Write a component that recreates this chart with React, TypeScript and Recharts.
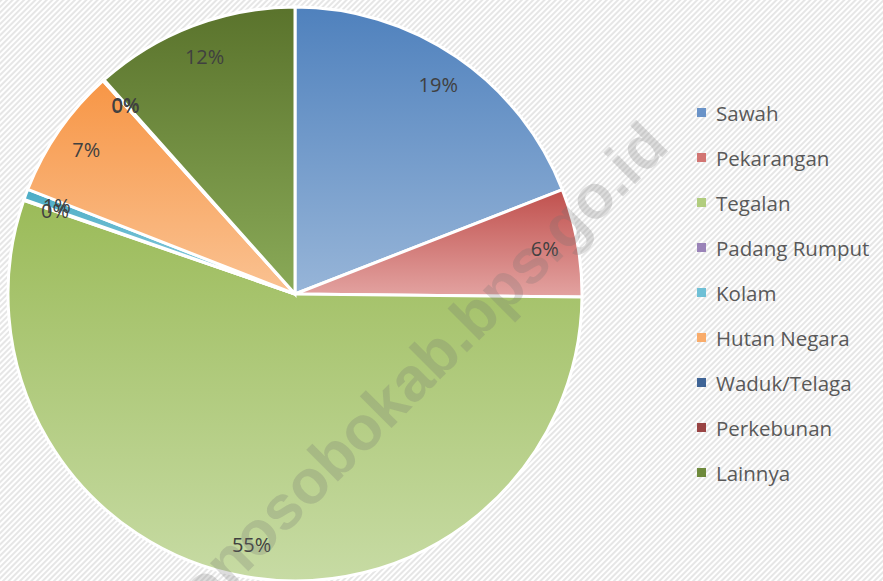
import React from 'react';
import { PieChart, Pie, Cell } from 'recharts';

const categories = ['Sawah', 'Pekarangan', 'Tegalan', 'Padang Rumput', 'Kolam', 'Hutan Negara', 'Waduk/Telaga', 'Perkebunan', 'Lainnya'];
const values = [19.1, 6.1, 55.2, 0.05, 0.6, 7.4, 0.03, 0.05, 11.6];
const topColors = ['#4F81BD', '#C0504D', '#9BBB59', '#8064A2', '#4BACC6', '#F79646', '#2C4D75', '#772C2A', '#5A732C'];
const bottomColors = ['#97B5D8', '#E3A3A1', '#C7DBA4', '#B5A5CC', '#93D0E0', '#FAC292', '#6F8DB5', '#B56A68', '#8AAA58'];
const legendColors = ['#6A93C8', '#D27573', '#B1CD7E', '#9A83B8', '#6FC0D6', '#F9AC6B', '#3F6496', '#994444', '#6E8A3C'];
const watermark = 'wonosobokab.bps.go.id';

const data = categories.map((name, i) => ({ name, value: values[i] }));

const RAD = Math.PI / 180;

const renderLabel = (props: any) => {
  const { cx, cy, midAngle, outerRadius, percent } = props;
  const r = outerRadius * 0.885;
  const x = cx + r * Math.cos(-midAngle * RAD);
  const y = cy + r * Math.sin(-midAngle * RAD);
  return (
    <text x={x} y={y} fill="#404040" fontSize={20} fontFamily="'Open Sans', 'DejaVu Sans', sans-serif" textAnchor="middle" dominantBaseline="central">
      {`${Math.round(percent * 100)}%`}
    </text>
  );
};

export default function App() {
  return (
    <div style={{ position: 'absolute', left: 0, top: 0, width: 883, height: 581, overflow: 'hidden', background: '#ffffff' }}>
      <svg width={883} height={581} style={{ position: 'absolute', left: 0, top: 0 }}>
        <defs>
          <pattern id="bgStripes" width="4" height="4" patternUnits="userSpaceOnUse" patternTransform="rotate(45)">
            <rect width="4" height="4" fill="#ffffff" />
            <rect width="2" height="4" fill="#e6e6e6" />
          </pattern>
        </defs>
        <rect x={0} y={0} width={883} height={581} fill="url(#bgStripes)" />
      </svg>
      <div style={{ position: 'absolute', left: 0, top: 0 }}>
        <PieChart width={883} height={581} margin={{ top: 0, right: 0, bottom: 0, left: 0 }}>
          <defs>
            {categories.map((c, i) => (
              <linearGradient key={c} id={`grad${i}`} x1="0" y1="0" x2="0" y2="1">
                <stop offset="0%" stopColor={topColors[i]} />
                <stop offset="100%" stopColor={bottomColors[i]} />
              </linearGradient>
            ))}
          </defs>
          <Pie
            data={data}
            dataKey="value"
            nameKey="name"
            cx={295}
            cy={294}
            outerRadius={287}
            startAngle={90}
            endAngle={-270}
            stroke="#ffffff"
            strokeWidth={3}
            label={renderLabel}
            labelLine={false}
            isAnimationActive={false}
          >
            {data.map((d, i) => (
              <Cell key={d.name} fill={`url(#grad${i})`} />
            ))}
          </Pie>
        </PieChart>
      </div>
      <div style={{ position: 'absolute', left: 697, top: 90, fontFamily: "'Open Sans', 'DejaVu Sans', sans-serif", fontSize: 20.5, color: '#595959' }}>
        {categories.map((c, i) => (
          <div key={c} style={{ display: 'flex', alignItems: 'center', height: 45 }}>
            <span style={{ display: 'inline-block', width: 9, height: 9, background: legendColors[i], marginRight: 10 }} />
            <span>{c}</span>
          </div>
        ))}
      </div>
      <svg width={883} height={581} style={{ position: 'absolute', left: 0, top: 0, pointerEvents: 'none' }}>
        <text
          x={405}
          y={384}
          transform="rotate(-45 405 384)"
          textAnchor="middle"
          dominantBaseline="central"
          fontFamily="'Liberation Sans', Arial, sans-serif"
          fontWeight="bold"
          fontSize={62}
          fill="#6f6f6f"
          fillOpacity={0.24}
        >
          {watermark}
        </text>
      </svg>
    </div>
  );
}
